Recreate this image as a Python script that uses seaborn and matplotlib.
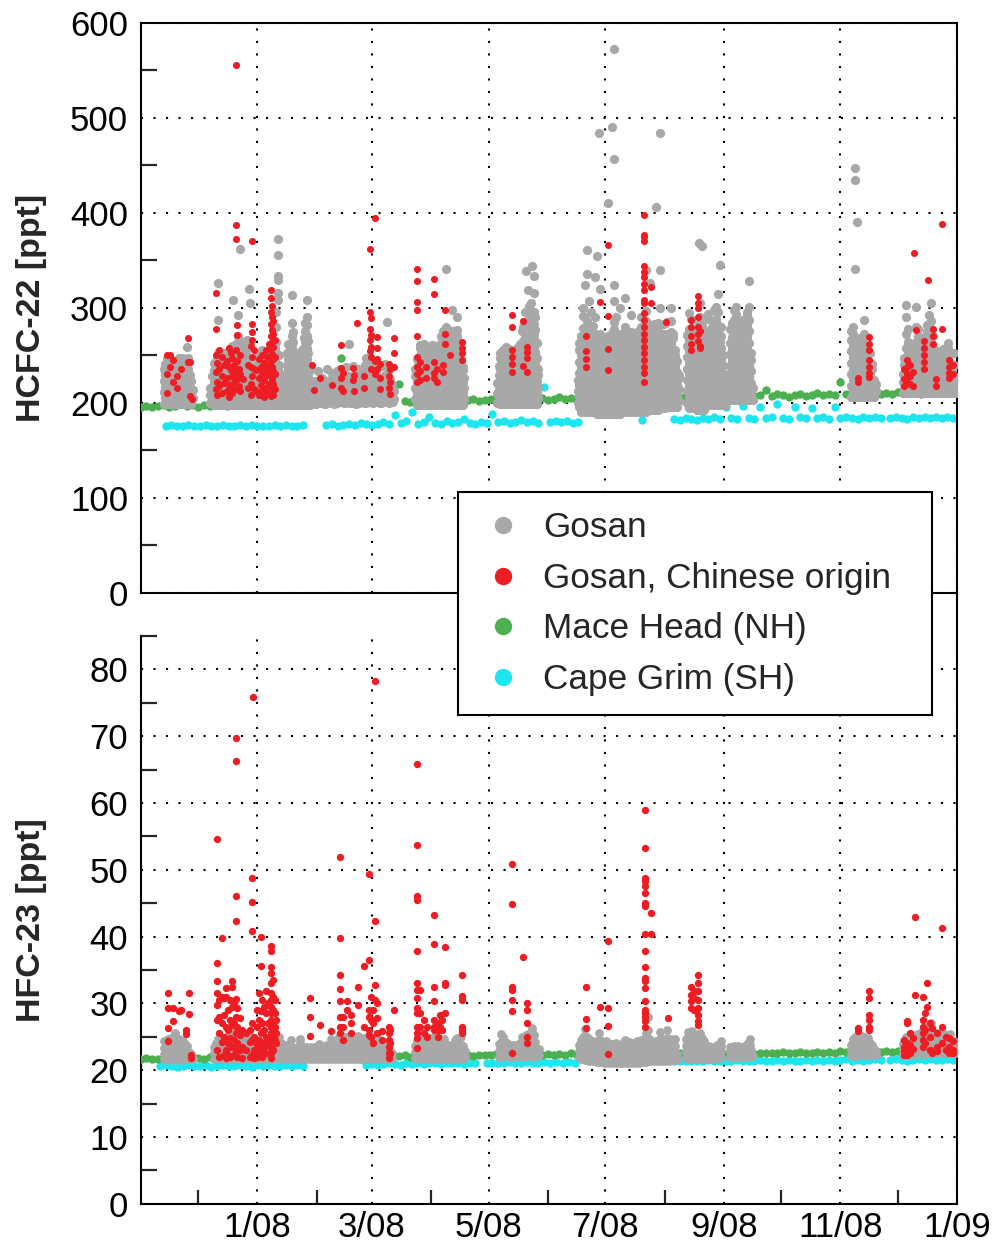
import numpy as np
import pandas as pd
import matplotlib
matplotlib.use("Agg")
import matplotlib.pyplot as plt
import matplotlib.dates as mdates
from matplotlib.lines import Line2D
from matplotlib.ticker import MultipleLocator, FixedLocator, FuncFormatter
import seaborn as sns

# ---------------------------------------------------------------------------
# Time axis: all sample times are given in days since 1 Nov 2007
# ---------------------------------------------------------------------------
START = pd.Timestamp("2007-11-01")
END = pd.Timestamp("2009-01-01")
BASE_STEP = 3  # days between plotted background-station samples

# ---------------------------------------------------------------------------
# HCFC-22 [ppt]
# Gosan: (day, [mixing ratios sampled around that day])
# ---------------------------------------------------------------------------
gosan_hcfc22 = [
    # Nov 2007
    (12.0, [199, 211, 223, 235]), (12.8, [205, 217, 229, 241]),
    (13.6, [199, 211, 223, 235, 247]), (14.4, [205, 217, 229, 241]),
    (15.2, [199, 211, 223, 235, 247]), (16.0, [205, 217, 229, 241]),
    (16.8, [199, 211, 223, 235]), (17.6, [205, 217, 229, 241]),
    (18.4, [199, 211, 223, 235]), (19.2, [205, 217, 229, 241]),
    (20.0, [199, 211, 223, 235, 247]), (20.8, [205, 217, 229, 241]),
    (21.6, [199, 211, 223, 235, 247]), (22.4, [205, 217, 229]),
    (23.2, [199, 211, 223, 235]), (24.0, [205, 217, 229, 241, 259]),
    (24.8, [199, 211, 223, 235, 247]), (25.6, [205, 217, 229]),
    (26.4, [199, 211, 223]), (27.2, [205, 213]),
    # Dec 2007
    (36.5, [200, 208, 216]), (37.3, [204, 216, 228]), (38.1, [198, 210, 222, 234, 242]),
    (38.9, [204, 216, 228, 240]), (39.7, [198, 210, 222, 234, 246]),
    (40.5, [204, 216, 228, 240, 252, 287, 326]), (41.3, [198, 210, 222, 234]),
    (42.1, [204, 216, 228, 240, 250]), (42.9, [198, 210, 222, 234]),
    (43.7, [204, 216, 228, 240, 252]), (44.5, [198, 210, 222, 234, 246]),
    (45.3, [204, 216, 228, 240]), (46.1, [198, 210, 222, 234, 246, 254]),
    (46.9, [204, 216, 228, 240, 250]), (47.7, [198, 210, 222, 234, 246, 260]),
    (48.5, [204, 216, 228, 240, 252, 308]), (49.3, [198, 210, 222, 234, 246, 256]),
    (50.1, [204, 216, 228, 240, 252, 262]),
    (50.9, [198, 210, 222, 234, 246, 258, 270, 292]),
    (51.7, [204, 216, 228, 240, 252, 264, 362]), (52.5, [198, 210, 222, 234, 246, 258]),
    (53.3, [204, 216, 228, 240, 252, 264]), (54.1, [198, 210, 222, 234, 246, 258]),
    (54.9, [204, 216, 228, 240, 252]), (55.7, [198, 210, 222, 234, 246, 258, 266]),
    (56.5, [204, 216, 228, 240, 320]), (57.3, [198, 210, 222, 234, 305]),
    (58.1, [204, 216, 228]), (58.9, [198, 210, 222]), (59.7, [204, 216, 228]),
    # Jan 2008
    (60.5, [198, 210, 222, 234, 246]), (61.3, [204, 216, 228, 240]),
    (62.1, [198, 210, 222, 234, 246, 252]), (62.9, [204, 216, 228]),
    (63.7, [198, 210, 222, 234, 246, 255]), (64.5, [204, 216, 228, 240]),
    (65.3, [198, 210, 222, 234, 246]), (66.1, [204, 216, 228, 240]),
    (66.9, [198, 210, 222, 234, 246, 256]), (67.7, [204, 216, 228]),
    (68.5, [198, 210, 222, 234]), (69.3, [204, 216, 228, 240]),
    (70.1, [198, 210, 222, 234, 246, 258]), (70.9, [204, 216, 228, 240, 252, 264, 280, 296]),
    (71.7, [198, 210, 222, 234, 308, 315, 329, 333, 355, 372]),
    (72.5, [204, 216, 228, 240, 250]), (73.3, [198, 210, 222]),
    (74.1, [200, 208, 216]), (74.9, [204, 212, 222]), (75.7, [198, 210, 222, 230]),
    (76.5, [204, 216, 228, 240, 252]), (77.3, [198, 210, 222, 234, 246, 262]),
    (78.1, [204, 216, 228, 240, 252, 258]),
    (78.9, [198, 210, 222, 234, 246, 258, 270, 284, 313]),
    (79.7, [204, 216, 228, 240, 252, 264, 274]), (80.5, [198, 210, 222, 234, 246, 251]),
    (81.3, [204, 216, 228, 240]), (82.1, [198, 210, 222, 231]),
    (82.9, [204, 216, 228, 240, 252]), (83.7, [198, 210, 222, 234]),
    (84.5, [204, 216, 228, 240, 252, 256]), (85.3, [198, 210, 222, 234, 246, 258, 268]),
    (86.1, [204, 216, 228, 240, 252, 264, 276, 284]),
    (86.9, [198, 210, 222, 234, 246, 258, 270, 282, 290, 308]),
    (87.7, [204, 216, 228, 240, 252, 265]), (88.5, [198, 210, 222, 234, 238]),
    (89.3, [204, 212, 216]),
    # Feb - mid Mar 2008
    (90.1, [200, 208, 218]), (91.0, [202, 211, 223]), (91.9, [199, 207, 215]),
    (92.8, [203, 212, 222, 233]), (93.7, [200, 209, 219]), (94.6, [204, 214, 226]),
    (95.5, [201, 210, 220]), (96.4, [199, 206, 214]), (97.3, [202, 211, 222, 235]),
    (98.2, [200, 208, 217]), (99.1, [203, 213, 224]), (100.0, [201, 209, 219, 231]),
    (100.9, [199, 207, 216]), (101.8, [202, 212, 223]), (102.7, [200, 210, 221, 233]),
    (103.6, [204, 214, 226]), (104.5, [201, 211, 222, 236]), (105.4, [203, 213, 225]),
    (106.3, [200, 209, 219]), (107.2, [202, 212, 224, 238]), (108.1, [201, 210, 221]),
    (109.0, [204, 215, 228, 262]), (109.9, [200, 209, 220]), (110.8, [203, 213, 225, 239]),
    (111.7, [201, 211, 223]), (112.6, [199, 208, 218]), (113.5, [202, 212, 224, 236]),
    (114.4, [200, 210, 221]), (115.3, [204, 214, 227]), (116.2, [201, 211, 222, 235]),
    (117.1, [203, 214, 226, 240]), (118.0, [200, 212, 225, 238, 247]),
    (118.9, [204, 216, 230, 244]), (119.8, [201, 213, 227, 241]), (120.7, [203, 215, 228]),
    (121.6, [200, 210, 221, 234]), (122.5, [202, 212, 224]), (123.4, [201, 211, 223, 236]),
    (124.3, [204, 215, 227]), (125.2, [200, 210, 222]), (126.1, [203, 213, 226, 239]),
    (127.0, [201, 212, 224]), (127.9, [204, 216, 229, 241]), (128.8, [202, 214, 228, 285]),
    (129.7, [200, 211, 223, 236]), (130.6, [203, 213, 225]), (131.5, [201, 210, 220]),
    (132.4, [204, 212]),
    # late Mar - Apr 2008
    (143.6, [204, 216, 228, 236]), (144.4, [198, 210, 222, 234, 246]),
    (145.2, [204, 216, 228, 240]), (146.0, [198, 210, 222, 234, 246, 258, 261]),
    (146.8, [204, 216, 228, 240, 252, 258]), (147.6, [198, 210, 222, 234, 246, 251]),
    (148.4, [204, 216, 228, 240, 252, 262]), (149.2, [198, 210, 222, 234, 246, 255]),
    (150.0, [204, 216, 228, 240, 248]), (150.8, [198, 210, 222, 234, 246, 250]),
    (151.6, [204, 216, 228, 240, 252, 259]), (152.4, [198, 210, 222, 234, 246, 258, 261]),
    (153.2, [204, 216, 228, 240, 244]), (154.0, [198, 210, 222, 234, 238]),
    (154.8, [204, 216, 228, 240, 252, 260]), (155.6, [198, 210, 222, 234, 246, 256]),
    (156.4, [204, 216, 228, 240, 252, 262]), (157.2, [198, 210, 222, 234, 246, 258, 270]),
    (158.0, [204, 216, 228, 240, 252, 264, 276]),
    (158.8, [198, 210, 222, 234, 246, 258, 270, 274]),
    (159.6, [204, 216, 228, 240, 252, 264, 276, 280, 341]),
    (160.4, [198, 210, 222, 234, 246, 258, 270, 275]),
    (161.2, [204, 216, 228, 240, 252, 264]), (162.0, [198, 210, 222, 234, 246, 258, 270]),
    (162.8, [204, 216, 228, 240, 252, 264, 276, 298]),
    (163.6, [198, 210, 222, 234, 246, 258, 270, 276]),
    (164.4, [204, 216, 228, 240, 252, 264, 267]),
    (165.2, [198, 210, 222, 234, 246, 258, 270, 277, 290]),
    (166.0, [204, 216, 228, 240, 252, 264]), (166.8, [198, 210, 222, 234, 246, 257]),
    (167.6, [204, 216, 228, 240, 245]), (168.4, [198, 210, 222, 234, 238]),
    (169.2, [204, 216, 226]),
    # May 2008
    (186.4, [200, 210, 221]), (187.2, [205, 217, 229, 239]),
    (188.0, [199, 211, 223, 235, 247, 252]), (188.8, [205, 217, 229, 241, 244]),
    (189.6, [199, 211, 223, 235, 247, 256]), (190.4, [205, 217, 229, 241, 248]),
    (191.2, [199, 211, 223, 235, 247, 259]), (192.0, [205, 217, 229, 241, 247]),
    (192.8, [199, 211, 223, 235, 247, 257]), (193.6, [205, 217, 229, 241, 246]),
    (194.4, [199, 211, 223, 235, 247, 254]), (195.2, [205, 217, 229, 241, 246]),
    (196.0, [199, 211, 223, 235, 241]), (196.8, [205, 217, 229, 241, 253, 258]),
    (197.6, [199, 211, 223, 235, 239]), (198.4, [205, 217, 229, 241, 253, 262]),
    (199.2, [199, 211, 223, 235, 247, 259, 275]),
    (200.0, [205, 217, 229, 241, 253, 265, 280]),
    (200.8, [199, 211, 223, 235, 247, 259, 271, 283, 296]),
    (201.6, [205, 217, 229, 241, 253, 265, 277, 285, 339]),
    (202.4, [199, 211, 223, 235, 247, 259, 271, 283, 298, 319]),
    (203.2, [205, 217, 229, 241, 253, 265, 277, 289, 302]),
    (204.0, [199, 211, 223, 235, 247, 259, 271, 283, 295, 305]),
    (204.8, [205, 217, 229, 241, 253, 265, 277, 289, 344]),
    (205.6, [199, 211, 223, 235, 247, 259, 271, 283, 295, 315, 333]),
    (206.4, [205, 217, 229, 241, 253, 265, 277, 290]),
    (207.2, [199, 211, 223, 235, 247, 263]), (208.0, [205, 217, 229, 236]),
    # mid Jun - Jul 2008
    (228.5, [200, 212, 224]), (229.5, [195, 207, 219, 231, 243, 255, 263]),
    (230.5, [190, 202, 214, 226, 238, 250, 262, 270]),
    (231.5, [195, 207, 219, 231, 243, 255, 267, 279, 291, 300]),
    (232.5, [190, 202, 214, 226, 238, 250, 262, 274, 290, 324]),
    (233.5, [195, 207, 219, 231, 243, 255, 267, 279, 286, 336, 361]),
    (234.5, [190, 202, 214, 226, 238, 250, 262, 270, 307]),
    (235.5, [195, 207, 219, 231, 243, 255, 267, 279, 296]),
    (236.5, [190, 202, 214, 226, 238, 250, 262, 274, 281]),
    (237.5, [195, 207, 219, 231, 243, 255, 267, 290, 332]),
    (238.5, [188, 200, 212, 224, 236, 248, 260, 263, 354]),
    (239.5, [194, 206, 218, 230, 242, 254, 266, 270, 484]),
    (240.5, [188, 200, 212, 224, 236, 248, 260, 272, 320]),
    (241.5, [194, 206, 218, 230, 242, 254, 266]),
    (242.5, [188, 200, 212, 224, 236, 248, 256]),
    (243.5, [194, 206, 218, 230, 242, 254, 265]),
    (244.5, [188, 200, 212, 224, 236, 248, 260, 270, 410]),
    (245.5, [194, 206, 218, 230, 242, 254, 266]),
    (246.5, [188, 200, 212, 224, 236, 248, 260, 273, 490]),
    (247.5, [194, 206, 218, 230, 242, 254, 266, 278, 285, 307, 324, 457, 572]),
    (248.5, [188, 200, 212, 224, 236, 248, 260, 272, 290]),
    (249.5, [194, 206, 218, 230, 242, 254, 266, 269]),
    (250.5, [188, 200, 212, 224, 236, 248, 260, 272, 300]),
    (251.5, [194, 206, 218, 230, 242, 254, 266, 270]),
    (252.5, [190, 202, 214, 226, 238, 250, 259]),
    (253.5, [196, 208, 220, 232, 244, 256, 268, 280, 310]),
    (254.5, [190, 202, 214, 226, 238, 250, 262, 276]),
    (255.5, [196, 208, 220, 232, 244, 256]),
    (256.5, [190, 202, 214, 226, 238, 250, 262, 274, 292]),
    (257.5, [196, 208, 220, 232, 244, 256, 268, 270]),
    (258.5, [190, 202, 214, 226, 238, 250, 262]),
    (259.5, [196, 208, 220, 232, 244, 256, 268, 274]),
    (260.5, [190, 202, 214, 226, 238, 250, 262]),
    (261.5, [196, 208, 220, 232, 244, 256, 268, 280, 290]),
    (262.5, [190, 202, 214, 226, 238, 250, 262, 264]),
    (263.5, [196, 208, 220, 232, 244, 256, 268, 277]),
    (264.5, [190, 202, 214, 226, 238, 250, 262, 274, 286, 297, 340]),
    (265.5, [196, 208, 220, 232, 244, 256, 268, 279]),
    (266.5, [192, 204, 216, 228, 240, 252, 264, 276, 282, 326]),
    (267.5, [198, 210, 222, 234, 246, 258, 270, 278]),
    (268.5, [192, 204, 216, 228, 240, 252, 264, 276, 283]),
    (269.5, [198, 210, 222, 234, 246, 258, 270, 281, 406]),
    (270.5, [192, 204, 216, 228, 240, 252, 264, 276, 284]),
    (271.5, [198, 210, 222, 234, 246, 258, 270, 282, 300, 340, 484]),
    (272.5, [194, 206, 218, 230, 242, 254, 266, 269]),
    (273.5, [200, 212, 224, 236, 248, 260, 272, 283]),
    (274.5, [194, 206, 218, 230, 242, 254, 266, 270]),
    (275.5, [200, 212, 224, 236, 248, 260, 272, 285]),
    (276.5, [196, 208, 220, 232, 244, 256, 268, 271]),
    (277.5, [202, 214, 226, 238, 250, 262, 274, 286, 300]),
    (278.5, [196, 208, 220, 232, 244, 256, 268, 272]),
    (279.5, [202, 214, 226, 238, 250, 255]), (280.5, [196, 208, 220, 232, 244]),
    (281.5, [202, 214, 226, 229]),
    # Aug 2008
    (285.8, [200, 212, 224, 236, 248, 260, 271]),
    (286.8, [194, 206, 218, 230, 242, 254, 266, 278, 294]),
    (287.8, [200, 212, 224, 236, 248, 260, 272, 288]),
    (288.8, [194, 206, 218, 230, 242, 254, 262]),
    (289.8, [198, 210, 222, 234, 246, 258, 268]),
    (290.8, [192, 204, 216, 228, 240, 252, 264, 275]),
    (291.8, [198, 210, 222, 234, 246, 258, 270, 283, 368]),
    (292.8, [192, 204, 216, 228, 240, 252, 264, 276, 290, 305]),
    (293.8, [198, 210, 222, 234, 246, 258, 270, 281, 365]),
    (294.8, [192, 204, 216, 228, 240, 252, 264, 276, 288]),
    (295.8, [198, 210, 222, 234, 246, 258, 270, 275]),
    (296.8, [204, 216, 228, 240, 252, 264, 276, 288, 293]),
    (297.8, [198, 210, 222, 234, 246, 258, 270, 276]),
    (298.8, [204, 216, 228, 240, 252, 264, 276, 280]),
    (299.8, [198, 210, 222, 234, 246, 258, 270, 282, 298]),
    (300.8, [204, 216, 228, 240, 252, 264, 276, 288, 301]),
    (301.8, [198, 210, 222, 234, 246, 258, 270, 282, 296, 314]),
    (302.8, [204, 216, 228, 240, 252, 264, 345]),
    (303.8, [198, 210, 222, 234, 246, 258, 270, 280]),
    (304.8, [204, 216, 228, 240, 250]), (305.8, [198, 210, 222, 230]),
    # Sep 2008
    (308.3, [203, 215, 227, 239, 251, 263, 278]),
    (309.3, [209, 221, 233, 245, 257, 269, 281, 284]),
    (310.3, [203, 215, 227, 239, 251, 263, 275, 287, 298]),
    (311.3, [209, 221, 233, 245, 257, 269, 281, 293, 301]),
    (312.3, [203, 215, 227, 239, 251, 263, 275, 283]),
    (313.3, [209, 221, 233, 245, 257, 269, 281, 286]),
    (314.3, [203, 215, 227, 239, 251, 263, 268]),
    (315.3, [209, 221, 233, 245, 257, 269, 281, 287]),
    (316.3, [203, 215, 227, 239, 251, 263, 275, 280]),
    (317.3, [209, 221, 233, 245, 257, 269, 281, 293, 296]),
    (318.3, [203, 215, 227, 239, 251, 263, 275, 287, 301, 328]),
    (319.3, [209, 221, 233, 245, 252]), (320.3, [203, 215]),
    # Nov 2008
    (371.5, [206, 218, 230, 242, 254, 266, 276]),
    (372.5, [212, 224, 236, 248, 260, 272, 280]),
    (373.5, [206, 218, 230, 242, 254, 266, 341, 434, 447]),
    (374.5, [212, 224, 236, 248, 260, 268, 390]), (375.5, [206, 218, 230, 242, 254, 265]),
    (376.5, [212, 224, 236, 248, 254]), (377.5, [206, 218, 230, 242, 254, 266]),
    (378.5, [212, 224, 236, 248, 260, 272, 287]), (379.5, [206, 218, 230, 242, 253]),
    (380.5, [212, 224, 236, 240]), (381.5, [206, 218, 230, 242, 252]),
    (382.5, [212, 224, 236, 241]), (383.5, [206, 218, 224]), (384.5, [212, 220]),
    # Dec 2008
    (398.5, [210, 222, 230]), (399.5, [216, 228, 240, 247]),
    (400.5, [210, 222, 234, 246, 258, 272, 290, 303]),
    (401.5, [216, 228, 240, 252, 264, 278]), (402.5, [210, 222, 234, 246, 258, 262]),
    (403.5, [216, 228, 240, 253]), (404.5, [210, 222, 234, 246, 258, 260]),
    (405.5, [216, 228, 240, 252, 264, 280, 301]),
    (406.5, [210, 222, 234, 246, 258, 270, 278]), (407.5, [216, 228, 240, 252, 264, 268]),
    (408.5, [210, 222, 234, 246, 251]), (409.5, [216, 228, 240, 252, 264, 269]),
    (410.5, [210, 222, 234, 246, 250]), (411.5, [216, 228, 240, 252, 264, 276, 282]),
    (412.5, [210, 222, 234, 246, 258, 270, 280, 292]),
    (413.5, [216, 228, 240, 252, 264, 276, 286, 305]),
    (414.5, [210, 222, 234, 246, 258, 270]), (415.5, [216, 228, 240, 252, 255]),
    (416.5, [210, 222, 234, 246, 250]), (417.5, [216, 228, 240]),
    (418.5, [210, 222, 234, 246, 252]), (419.5, [216, 228, 240, 252, 257]),
    (420.5, [210, 222, 234, 239]), (421.5, [216, 228, 240, 250]),
    (422.5, [210, 222, 234, 246, 258, 263]), (423.5, [216, 228, 240, 251]),
    (424.5, [210, 222, 234, 241]), (425.5, [216, 228, 240, 252]), (426.5, [210, 222]),
]

# Gosan samples attributed to air masses of Chinese origin
china_hcfc22 = [
    (14.0, [250, 230, 210]), (15.5, [250, 238]), (17.0, [245, 222]), (19.0, [228, 215]),
    (21.0, [236]), (25.0, [243, 268]), (26.0, [243, 207]), (27.0, [204]),
    (39.3, [315, 278, 250, 232, 214]), (40.0, [242, 222, 208]), (41.2, [255, 236, 218]),
    (42.6, [248, 228, 210]), (43.8, [240, 221]), (45.3, [244, 226, 212]),
    (46.2, [258, 238, 219, 206]), (47.0, [252, 234, 216]), (47.8, [247, 228, 210]),
    (48.7, [240, 222]), (49.6, [555, 387, 372, 256, 232, 214]), (50.5, [282, 271, 244, 225]),
    (51.4, [236, 218]), (52.2, [250, 230, 212]), (53.5, [225]), (56.0, [240, 216]),
    (57.5, [260, 238, 220, 208]), (58.3, [370, 283, 274, 266, 248, 228]),
    (59.5, [255, 235, 214]), (60.3, [234, 212]),
    (61.8, [246, 226, 208]), (62.7, [238, 219]), (63.6, [250, 231, 212]),
    (64.5, [242, 224, 206]), (65.4, [256, 236, 216]), (66.3, [248, 229, 210]),
    (67.2, [262, 240, 220]), (67.9, [319, 310, 296, 283, 270, 257, 244, 231, 218, 207]),
    (68.6, [302, 290, 277, 264, 251, 238, 225, 212]),
    (69.4, [286, 272, 259, 246, 233, 220, 208]), (70.3, [266, 248, 230, 214]),
    (89.6, [240]), (90.5, [213]), (94.0, [226]), (100.0, [219]),
    (105.0, [261, 237, 226, 216]), (105.8, [231, 212]), (110.8, [237, 224]),
    (111.6, [229, 212]), (113.0, [284]), (116.6, [228, 216]),
    (119.8, [362, 296, 278, 266, 254]), (120.6, [289, 271, 259, 248, 236]),
    (122.7, [394, 244, 230]), (123.6, [269, 258, 246, 235]), (125.3, [241, 226, 214]),
    (129.7, [241, 228, 215]), (130.6, [236, 222, 209]), (132.3, [268, 252, 238]),
    (144.5, [341, 328, 306, 298, 270, 248, 238, 230, 222]), (146.0, [243, 233, 224]),
    (149.0, [238, 226]), (153.2, [330, 314, 243, 231, 226]), (155.0, [236, 222]),
    (158.0, [240, 232]), (159.4, [298, 272, 262]), (162.0, [250]),
    (168.0, [264, 258, 252, 245]),
    (194.0, [292, 280, 255, 248, 241, 232]), (200.0, [286, 239]),
    (202.3, [259, 253, 247, 232]),
    (233.0, [270, 254, 246, 238]), (240.0, [306]), (244.5, [366, 291, 257, 234]),
    (263.5, [398, 377, 374, 370, 344, 338, 332, 325, 319, 308, 305, 294, 287, 280, 272,
             266, 259, 252, 245, 238, 231, 222]),
    (267.0, [322, 305]), (275.0, [285]),
    (288.0, [287, 280, 270, 262, 255]), (291.6, [312, 305, 300, 290, 280, 272, 265]),
    (292.4, [275, 260, 258]),
    (375.0, [226, 222]), (380.9, [269, 262, 255, 245, 238, 231, 227]),
    (399.5, [235, 225, 218]), (400.8, [245, 238, 230, 222]), (402.5, [240, 228, 220]),
    (403.8, [232, 218]), (404.7, [358]), (405.6, [277]),
    (409.8, [265, 258, 250, 243, 236]), (411.9, [329]), (414.3, [278, 270, 262]),
    (416.0, [225, 218]), (419.2, [388, 278]), (423.0, [245, 238, 231, 226]),
    (425.0, [240, 230]),
]

# Background stations: (first day, [values every BASE_STEP days])
macehead_hcfc22 = [
    (0, [196, 197, 195, 197, 198, 196, 197, 199, 197, 198,
         196, 198, 197, 199, 198, 197, 199, 198, 200, 198,
         199, 200, 198, 200, 201, 199, 200, 198, 201, 200,
         200, 201, 199, 201, 200, 247, 200, 201, 202, 200,
         201, 202, 200, 202, 201, 220, 202, 201, 203, 202,
         201, 203, 202, 204, 202, 203, 201, 203, 204, 202,
         203, 204, 202, 215, 204, 203, 218, 205, 203, 204,
         205, 203, 204, 206, 204, 205, 203, 205, 206, 204,
         205, 206, 204, 206, 205, 207, 205, 206, 204, 206,
         205, 207, 206, 204, 206, 207, 205, 206, 208, 206,
         207, 205, 207, 206, 208, 206, 213, 207, 208, 213,
         207, 209, 208, 206, 208, 209, 207, 208, 210, 208,
         209, 208, 222, 209, 210, 208, 210, 209, 211, 209,
         210, 209, 211, 210, 212, 210, 209, 211, 210, 212,
         211, 210, 212]),
]

capegrim_hcfc22 = [
    (13, [176, 177, 176, 175, 177, 176, 176, 177, 175, 176, 177, 176, 175,
          177, 176, 177, 176, 175, 176, 177, 176, 177, 175, 176, 177]),
    (97, [177, 178, 176, 177, 178, 177, 179, 178, 177, 178, 180, 178, 187, 179,
          181, 190, 178, 180, 185, 179, 178, 181, 179, 180, 183, 179, 178, 180,
          179, 188, 180, 181, 179, 180, 182, 180, 181, 179, 217, 180, 181]),
    (220, [180, 181, 179, 180]),
    (262, [182]),
    (279, [183, 182, 184, 183, 182, 184, 183, 185, 183, 196, 184, 183, 197, 184,
           183, 195, 184, 185, 199, 184, 183, 196, 185, 184, 194, 184, 185, 183,
           195, 184, 185, 184, 183, 185, 184, 185, 184]),
    (392, [184, 185, 184, 183, 185, 184, 185, 184, 185, 184, 185, 184]),
]

# ---------------------------------------------------------------------------
# HFC-23 [ppt]
# ---------------------------------------------------------------------------
gosan_hfc23 = [
    (12.2, [21.6, 22.4, 23.3, 24.4]), (13.2, [21.8, 22.7, 23.8]), (14.2, [21.5, 22.3, 23.2, 24.6]),
    (15.2, [21.9, 22.8, 23.9]), (16.2, [21.6, 22.5, 23.5, 24.8]), (17.2, [21.8, 22.8, 24.0, 25.3]),
    (18.2, [21.5, 22.4, 23.4, 24.5, 25.5]), (19.2, [21.9, 22.9, 24.1]),
    (20.2, [21.6, 22.5, 23.6, 24.7]), (21.2, [21.8, 22.7, 23.7]), (22.2, [21.5, 22.4, 23.3, 24.3]),
    (23.2, [21.9, 22.8, 23.9]), (24.2, [21.6, 22.6, 23.6]), (25.2, [21.8, 22.7]),
    (26.2, [21.6, 22.4]), (27.2, [21.7]),
    (38.5, [21.7, 22.6, 23.5]), (39.5, [21.9, 22.9, 24.0]), (40.5, [21.6, 22.5, 23.6, 24.6]),
    (41.5, [21.8, 22.8, 23.9]), (42.5, [21.6, 22.6, 23.7, 24.8]), (43.5, [21.9, 22.9, 24.0]),
    (44.5, [21.7, 22.7, 23.8, 24.9]), (45.5, [21.9, 22.9, 24.1]), (46.5, [21.6, 22.6, 23.7, 24.7]),
    (47.5, [21.8, 22.8, 23.9, 25.0]), (48.5, [21.7, 22.7, 23.8, 25.2, 26.2]),
    (49.5, [21.9, 22.9, 24.1, 25.4]), (50.5, [21.6, 22.6, 23.7, 24.9, 25.9]),
    (51.5, [21.8, 22.8, 24.0, 25.2]), (52.5, [21.7, 22.7, 23.8, 24.8]), (53.5, [21.9, 22.9, 24.0]),
    (54.5, [21.6, 22.6, 23.6, 24.7]), (55.5, [21.8, 22.8, 23.9, 25.0]),
    (56.5, [21.7, 22.7, 23.8, 25.1]), (57.5, [21.9, 22.9, 24.0]), (58.5, [21.7, 22.6, 23.6]),
    (59.5, [21.8, 22.8]),
    (60.5, [21.7, 22.6, 23.6]), (61.5, [21.9, 22.9, 24.0]), (62.5, [21.6, 22.5, 23.5]),
    (63.5, [21.8, 22.8, 23.9]), (64.5, [21.7, 22.7, 23.7]), (65.5, [21.9, 22.9, 24.1]),
    (66.5, [21.6, 22.6, 23.6]), (67.5, [21.8, 22.7]), (68.5, [21.7, 22.6]), (69.5, [21.9, 22.8]),
    (70.5, [21.6, 22.5, 23.5, 24.6]), (71.5, [21.8, 22.8, 23.9, 25.0]),
    (72.5, [21.7, 22.7, 23.8, 24.9]), (73.5, [21.9, 22.9, 24.0]), (74.5, [21.7, 22.6, 23.5]),
    (75.5, [21.8, 22.7, 23.7]), (76.5, [21.6, 22.5, 23.4]), (77.5, [21.9, 22.8, 23.8]),
    (78.5, [21.7, 22.6, 23.5, 24.5]), (79.5, [21.8, 22.7]), (80.5, [21.6, 22.5, 23.3]),
    (81.5, [21.9, 22.7]), (82.5, [21.7, 22.6, 23.4]), (83.5, [21.8, 22.8, 24.0, 24.6]),
    (84.5, [21.6, 22.5, 23.4]), (85.5, [21.9, 22.8]), (86.5, [21.7, 22.6, 23.5]),
    (87.5, [21.8, 22.7]), (88.5, [21.6, 22.5, 23.4]), (89.5, [21.9, 22.8]),
    (90.5, [21.7, 22.6, 23.5]), (91.5, [21.8, 22.7]), (92.5, [21.6, 22.5, 23.4]),
    (93.5, [21.9, 22.8, 23.9]), (94.5, [21.7, 22.6]), (95.5, [21.8, 22.7, 23.6]),
    (96.5, [21.6, 22.5]), (97.5, [21.9, 22.8, 23.8]), (98.5, [21.7, 22.6, 23.5]),
    (99.5, [21.8, 22.7, 23.7, 24.7]), (100.5, [21.6, 22.5, 23.5]), (101.5, [21.9, 22.8, 23.8]),
    (102.5, [21.7, 22.6, 23.6]), (103.5, [21.8, 22.8, 23.9, 24.9]), (104.5, [21.6, 22.6, 23.7]),
    (105.5, [21.9, 22.9, 24.0, 25.1]), (106.5, [21.7, 22.7, 23.8]),
    (107.5, [21.8, 22.8, 23.9, 24.9]), (108.5, [21.6, 22.6, 23.7]), (109.5, [21.9, 22.9, 24.0]),
    (110.5, [21.7, 22.7, 23.8, 24.8]), (111.5, [21.8, 22.8, 23.9]), (112.5, [21.6, 22.6, 23.6]),
    (113.5, [21.9, 22.9, 24.0, 25.1]), (114.5, [21.7, 22.7, 23.7]), (115.5, [21.8, 22.8, 23.9]),
    (116.5, [21.6, 22.6, 23.7, 24.8]), (117.5, [21.9, 22.9, 24.0]),
    (118.5, [21.7, 22.7, 23.8, 25.0]), (119.5, [21.8, 22.8, 23.9]),
    (120.5, [21.6, 22.6, 23.7, 24.7]), (121.5, [21.9, 22.9, 24.0]), (122.5, [21.7, 22.7, 23.8]),
    (123.5, [21.8, 22.8, 23.9, 24.9]), (124.5, [21.6, 22.6, 23.7]), (125.5, [21.9, 22.9, 24.0]),
    (126.5, [21.7, 22.7, 23.7]), (127.5, [21.8, 22.8]), (128.5, [21.6, 22.6, 23.6]),
    (129.5, [21.9, 22.9]), (130.5, [21.7, 22.7]), (131.5, [21.8, 22.6]),
    (143.5, [21.8, 22.7, 23.6]), (144.5, [21.6, 22.5, 23.4, 24.4]), (145.5, [21.9, 22.8, 23.8]),
    (146.5, [21.7, 22.6, 23.5, 24.5]), (147.5, [21.8, 22.7, 23.7]),
    (148.5, [21.6, 22.6, 23.6, 24.7]), (149.5, [21.9, 22.9, 23.9, 24.9]),
    (150.5, [21.7, 22.7, 23.7]), (151.5, [21.8, 22.8, 23.9, 24.8]), (152.5, [21.6, 22.6, 23.6]),
    (153.5, [21.9, 22.9, 24.0, 25.0]), (154.5, [21.7, 22.7, 23.8]),
    (155.5, [21.8, 22.8, 23.9, 24.9]), (156.5, [21.6, 22.6, 23.7]), (157.5, [21.9, 22.9, 24.0]),
    (158.5, [21.7, 22.7, 23.7, 24.6]), (159.5, [21.8, 22.8, 23.8]), (160.5, [21.6, 22.6, 23.6]),
    (161.5, [21.9, 22.8, 23.7]), (162.5, [21.7, 22.6, 23.5]), (163.5, [21.8, 22.7, 23.6]),
    (164.5, [21.6, 22.5, 23.5, 24.5]), (165.5, [21.9, 22.8, 23.8, 24.8]),
    (166.5, [21.7, 22.7, 23.7]), (167.5, [21.8, 22.8, 23.8, 24.9]), (168.5, [21.6, 22.6, 23.6]),
    (169.5, [21.9, 22.8]),
    (187.5, [22.0, 22.9, 23.9]), (188.5, [22.2, 23.1, 24.2, 25.4]),
    (189.5, [22.0, 22.9, 23.9, 24.9]), (190.5, [22.3, 23.2, 24.2]), (191.5, [22.1, 23.0, 24.0]),
    (192.5, [22.0, 22.8, 23.7]), (193.5, [22.2, 23.1]), (194.5, [22.0, 22.9, 23.8]),
    (195.5, [22.3, 23.2]), (196.5, [22.1, 22.9, 23.8]), (197.5, [22.0, 22.8]),
    (198.5, [22.2, 23.1, 24.0]), (199.5, [22.1, 23.0, 24.0, 25.0]), (200.5, [22.3, 23.3, 24.4]),
    (201.5, [22.0, 23.0, 24.1, 25.2]), (202.5, [22.2, 23.2, 24.3, 25.4]),
    (203.5, [22.1, 23.1, 24.2, 25.3]), (204.5, [22.3, 23.3, 24.5, 25.7, 26.3]),
    (205.5, [22.0, 23.0, 24.1, 25.2]), (206.5, [22.2, 23.2, 24.2]), (207.5, [22.1, 23.0]),
    (208.5, [22.3, 23.1]),
    (229.5, [21.9, 22.8, 23.7]), (230.5, [21.6, 22.5, 23.5, 24.5]),
    (231.5, [21.8, 22.8, 23.9, 25.0]), (232.5, [21.5, 22.5, 23.6, 24.8, 26.2]),
    (233.5, [21.7, 22.7, 23.8, 25.0]), (234.5, [21.4, 22.4, 23.5, 24.6]),
    (235.5, [21.6, 22.6, 23.6]), (236.5, [21.3, 22.2, 23.2, 24.3]), (237.5, [21.5, 22.5, 23.5]),
    (238.5, [21.2, 22.1, 23.1, 24.2]), (239.5, [21.4, 22.4, 23.4, 24.5, 25.6]),
    (240.5, [21.2, 22.1, 23.0]), (241.5, [21.4, 22.3, 23.3, 24.4]), (242.5, [21.1, 22.0, 22.9]),
    (243.5, [21.3, 22.3, 23.3, 24.3]), (244.5, [21.1, 22.0, 23.0, 24.0]),
    (245.5, [21.3, 22.2, 23.2]), (246.5, [21.0, 21.9, 22.9, 23.9]), (247.5, [21.2, 22.2, 23.2]),
    (248.5, [21.1, 22.0, 23.0, 24.0]), (249.5, [21.3, 22.2, 23.1]),
    (250.5, [21.0, 21.9, 22.8, 23.8]), (251.5, [21.2, 22.1, 23.1]),
    (252.5, [21.1, 22.0, 23.0, 24.1]), (253.5, [21.3, 22.3, 23.4, 24.5]),
    (254.5, [21.1, 22.1, 23.1]), (255.5, [21.2, 22.2, 23.2, 24.2]), (256.5, [21.0, 22.0, 23.0]),
    (257.5, [21.2, 22.1, 23.1, 24.0]), (258.5, [21.1, 22.0, 22.9]),
    (259.5, [21.3, 22.3, 23.3, 24.3]), (260.5, [21.1, 22.0, 23.0]),
    (261.5, [21.3, 22.3, 23.4, 24.5]), (262.5, [21.2, 22.2, 23.2, 24.4]),
    (263.5, [21.4, 22.4, 23.5, 24.6]), (264.5, [21.2, 22.2, 23.3, 24.5, 25.6]),
    (265.5, [21.4, 22.5, 23.6, 24.8, 26.0, 28.0]), (266.5, [21.3, 22.3, 23.4, 24.5]),
    (267.5, [21.5, 22.5, 23.6]), (268.5, [21.3, 22.3, 23.3]), (269.5, [21.5, 22.4, 23.4, 24.4]),
    (270.5, [21.3, 22.3, 23.3]), (271.5, [21.5, 22.5, 23.6, 24.7, 25.7]),
    (272.5, [21.4, 22.4, 23.5, 24.6]), (273.5, [21.6, 22.6, 23.6]),
    (274.5, [21.4, 22.4, 23.4, 24.5]), (275.5, [21.6, 22.6, 23.7, 24.8, 26.0]),
    (276.5, [21.4, 22.4, 23.4]), (277.5, [21.6, 22.5, 23.5, 24.6]), (278.5, [21.5, 22.4, 23.3]),
    (279.5, [21.7, 22.6, 23.6, 24.7]), (280.5, [21.5, 22.4]),
    (285.5, [21.8, 22.7, 23.6, 24.6]), (286.5, [21.6, 22.6, 23.6, 24.7, 25.7]),
    (287.5, [21.9, 22.9, 24.0, 25.1]), (288.5, [21.7, 22.7, 23.8, 24.9, 25.9]),
    (289.5, [21.9, 22.9, 24.0, 25.0]), (290.5, [21.6, 22.6, 23.7, 24.8]),
    (291.5, [21.8, 22.8, 23.9, 25.0]), (292.5, [21.6, 22.6, 23.6, 24.6, 25.6]),
    (293.5, [21.8, 22.8, 23.8, 24.8]), (294.5, [21.6, 22.5, 23.5, 24.4]),
    (295.5, [21.8, 22.7, 23.6]), (296.5, [21.6, 22.5, 23.4]), (297.5, [21.8, 22.7, 23.6]),
    (298.5, [21.7, 22.6, 23.4]), (299.5, [21.9, 22.8]), (300.5, [21.7, 22.6, 23.5]),
    (301.5, [21.9, 22.8, 23.7]), (302.5, [21.8, 22.6]), (303.5, [21.9, 22.8, 23.6, 24.4]),
    (308.5, [22.0, 22.8, 23.5]), (309.5, [22.2, 23.0]), (310.5, [22.0, 22.8, 23.6]),
    (311.5, [22.2, 23.0]), (312.5, [22.0, 22.9, 23.6]), (313.5, [22.2, 23.0]),
    (314.5, [22.0, 22.8, 23.5]), (315.5, [22.2, 23.0]), (316.5, [22.0, 22.9, 23.7]),
    (317.5, [22.2, 23.1, 24.0]), (318.5, [22.0, 22.9, 23.8, 24.6]), (319.5, [22.2, 23.0]),
    (320.5, [22.1]),
    (371.5, [22.3, 23.0, 23.8]), (372.5, [22.1, 22.9, 23.8, 24.6]),
    (373.5, [22.3, 23.1, 24.0, 24.9]), (374.5, [22.1, 23.0, 23.9, 24.8]),
    (375.5, [22.3, 23.2, 24.1, 25.0]), (376.5, [22.2, 23.1, 24.0]),
    (377.5, [22.4, 23.3, 24.2, 25.1]), (378.5, [22.2, 23.1, 24.0, 24.9]),
    (379.5, [22.4, 23.3, 24.2]), (380.5, [22.2, 23.1, 24.0, 24.8]), (381.5, [22.4, 23.2, 24.0]),
    (382.5, [22.2, 23.0, 23.8]), (383.5, [22.4, 23.1]), (384.5, [22.2, 22.9]),
    (398.5, [22.3, 23.1, 23.9]), (399.5, [22.5, 23.4, 24.3]), (400.5, [22.3, 23.2, 24.1, 25.0]),
    (401.5, [22.5, 23.4, 24.4]), (402.5, [22.3, 23.2, 24.2, 25.1]), (403.5, [22.5, 23.5, 24.5]),
    (404.5, [22.4, 23.3, 24.3, 25.3]), (405.5, [22.6, 23.6, 24.6]),
    (406.5, [22.4, 23.4, 24.4, 25.4]), (407.5, [22.6, 23.6, 24.6, 25.6]),
    (408.5, [22.4, 23.4, 24.4]), (409.5, [22.6, 23.6, 24.7, 25.8]),
    (410.5, [22.4, 23.4, 24.5, 25.6]), (411.5, [22.6, 23.6, 24.7, 25.9]),
    (412.5, [22.5, 23.5, 24.6, 25.8, 26.6]), (413.5, [22.7, 23.7, 24.8, 26.0, 27.0]),
    (414.5, [22.5, 23.5, 24.6, 25.7]), (415.5, [22.7, 23.7, 24.8]),
    (416.5, [22.5, 23.5, 24.5, 25.5]), (417.5, [22.7, 23.6, 24.6]), (418.5, [22.5, 23.5, 24.5]),
    (419.5, [22.7, 23.6, 24.6, 25.5]), (420.5, [22.5, 23.4, 24.3]), (421.5, [22.7, 23.6, 24.5]),
    (422.5, [22.5, 23.4, 24.3]), (423.5, [22.7, 23.6, 24.5, 25.4]), (424.5, [22.5, 23.4]),
    (425.5, [22.7, 23.6, 24.4]), (426.5, [22.6, 23.3]),
]

china_hfc23 = [
    (14.4, [31.5, 29.3, 26.3, 24.3]), (16.8, [29.3, 27.3]), (20.0, [28.8]), (20.9, [29.0]),
    (23.5, [26.0, 25.4]), (25.2, [31.5, 28.4]), (26.1, [22.3, 21.8]),
    (39.7, [54.6, 36.0, 33.3, 31.5, 29.8, 27.5, 23.0]), (40.9, [30.5, 28.0, 25.5, 22.0]),
    (42.3, [39.8, 31.0, 27.0, 24.2]), (43.5, [30.8, 28.2, 25.0, 22.3]),
    (44.4, [32.3, 31.0, 26.5, 23.0, 21.8]), (45.6, [29.0, 26.0, 24.0, 22.2]),
    (46.5, [30.5, 27.5, 24.8, 22.0]), (47.9, [33.3, 32.5, 29.5, 26.8, 23.5]),
    (48.8, [30.0, 27.0, 24.5, 22.3]), (49.6, [69.7, 66.3, 46.1, 42.4, 30.7, 28.0, 25.5, 23.0]),
    (50.6, [29.3, 26.5, 24.0, 22.0]), (51.8, [27.8, 25.2, 23.0]), (53.0, [26.0, 23.5, 21.8]),
    (55.2, [25.5, 23.0]), (57.0, [26.0, 24.2, 22.0]),
    (58.0, [48.7, 45.1, 40.9, 27.0, 24.5, 22.3]), (58.6, [75.9]), (59.5, [25.0, 23.0, 21.8]),
    (60.8, [29.0, 26.5, 23.8, 21.9]), (61.8, [31.5, 27.5, 24.5, 22.5]),
    (62.7, [40.0, 35.6, 28.8, 25.5, 23.0]), (63.7, [30.5, 27.0, 24.0, 22.0]),
    (64.7, [29.5, 26.0, 23.5]), (65.7, [31.8, 28.5, 25.0, 22.5]), (66.7, [30.0, 27.0, 24.2]),
    (67.9, [38.6, 37.8, 35.5, 34.5, 33.0, 31.5, 30.5, 29.5, 28.5, 27.5, 26.5, 25.5, 24.5,
            23.5, 22.5, 21.8]),
    (69.0, [33.5, 31.0, 29.0, 27.0, 25.0, 23.0]), (70.0, [30.5, 28.5, 26.5, 24.5]),
    (71.0, [27.5, 25.5, 24.0]),
    (88.8, [30.8, 28.0, 25.1]), (94.0, [26.8]), (99.6, [25.9]),
    (104.4, [51.9, 39.8, 34.3, 32.2, 30.3, 28.0, 26.5, 25.5]), (105.8, [28.0, 26.5, 24.5]),
    (108.0, [30.3, 29.0]), (110.0, [28.3, 27.0, 25.5]), (113.7, [32.4, 29.8]),
    (116.6, [35.6, 26.5]), (119.2, [49.3, 36.5, 29.0, 28.0, 26.0, 25.3]),
    (120.5, [31.0, 27.5, 25.0]), (121.5, [29.0, 27.0, 24.0]), (122.4, [78.2, 42.3, 32.8, 30.5]),
    (123.5, [30.0, 27.8, 25.5]), (126.2, [25.9, 24.5]),
    (129.8, [26.5, 25.5, 24.5, 23.5, 22.5, 21.8]), (130.6, [26.0, 24.0, 22.5]), (132.3, [29.0]),
    (144.5, [65.8, 53.7, 46.0, 45.5, 37.9, 33.0, 32.0, 30.8, 29.3, 28.5, 26.5, 25.5, 24.8,
             23.3]),
    (146.0, [32.0, 28.5, 26.5]), (148.0, [27.5, 25.5]), (150.0, [26.5, 25.0]),
    (153.2, [43.3, 38.9, 32.4, 30.4, 27.5, 26.5, 26.0]), (155.5, [27.0, 26.0, 25.0]),
    (156.5, [28.3, 26.5]), (157.7, [27.5, 26.0]), (159.4, [38.4, 33.0, 32.8, 28.5]),
    (168.0, [34.3, 31.1, 30.5, 26.5, 26.0, 25.5]),
    (194.0, [50.8, 44.9, 32.5, 32.0, 30.5, 28.8, 22.5]), (200.0, [37.0]),
    (202.3, [30.1, 29.0, 27.0, 25.0, 24.0]),
    (233.0, [32.4, 27.6, 26.3]), (240.0, [29.5]), (244.5, [39.3, 29.3, 26.6, 22.4]),
    (263.6, [58.9, 53.2, 48.8, 48.3, 47.5, 46.5, 45.0, 44.5, 40.4, 37.9, 35.4, 33.8, 33.3,
             32.3, 30.3, 29.0, 28.5, 28.0, 27.3, 26.5]),
    (267.0, [43.5, 40.4]), (276.0, [27.8]),
    (288.0, [32.5, 31.3, 30.3, 29.3]), (289.5, [31.8, 30.8, 29.0]),
    (291.3, [34.3, 33.0, 31.8, 30.5, 29.3, 28.3, 27.3, 26.8]),
    (375.0, [26.3, 25.8]), (380.9, [31.8, 30.8, 28.3, 27.5, 26.5, 26.0]),
    (399.5, [24.5, 23.5, 22.8, 22.2]), (400.8, [27.3, 27.0, 24.0, 23.0, 22.3]),
    (402.5, [25.5, 23.8, 22.5]), (404.0, [24.8, 23.2]), (405.0, [43.0, 31.3]),
    (409.0, [31.0, 27.5, 26.5, 25.5, 24.5, 23.5]), (410.5, [28.5, 26.0, 24.0]),
    (411.5, [33.0, 29.5]), (413.0, [27.0, 25.0, 23.0]), (414.0, [26.3, 22.5]),
    (416.5, [25.5, 23.5, 22.8]), (419.0, [41.3, 26.5, 24.0]), (421.0, [25.0, 23.0]),
    (423.0, [24.8, 23.5, 22.5]), (425.0, [24.3, 23.0, 22.5]),
]

macehead_hfc23 = [
    (0, [21.7, 21.8, 21.6, 21.7, 21.8, 21.7, 21.6, 21.8, 21.7, 21.8,
         21.8, 21.7, 21.9, 21.8, 21.7, 21.9, 21.8, 21.9, 21.8, 21.7,
         21.9, 21.8, 22.0, 21.9, 21.8, 22.0, 21.9, 21.8, 22.0, 21.9,
         22.0, 21.9, 22.1, 22.0, 23.4, 22.0, 22.1, 21.9, 22.1, 22.0,
         22.1, 22.0, 22.2, 22.1, 22.3, 22.1, 22.2, 22.0, 22.2, 22.1,
         22.2, 22.1, 22.3, 22.2, 22.1, 22.3, 22.2, 22.3, 22.1, 22.2,
         22.3, 22.2, 22.4, 22.3, 22.2, 22.4, 22.3, 22.2, 22.4, 22.3,
         22.3, 22.4, 22.2, 22.4, 22.3, 22.5, 22.3, 22.4, 22.2, 22.4,
         22.4, 22.3, 22.5, 22.4, 22.3, 22.5, 22.4, 22.5, 22.3, 22.4,
         22.5, 22.4, 22.5, 22.3, 22.5, 22.4, 22.6, 22.4, 22.5, 22.6,
         22.5, 22.6, 22.4, 22.6, 22.5, 22.6, 22.5, 22.4, 22.6, 22.5,
         22.6, 22.5, 22.7, 22.6, 22.5, 22.7, 22.6, 22.5, 22.7, 22.6,
         22.7, 22.6, 22.8, 22.7, 22.6, 22.8, 22.7, 22.6, 22.8, 22.7,
         22.8, 22.7, 22.9, 22.8, 22.7, 22.9, 22.8, 22.7, 22.9, 22.8,
         22.9, 22.8, 22.9]),
]

capegrim_hfc23 = [
    (10, [20.6, 20.7, 20.6, 20.5, 20.6, 20.7, 20.6, 20.6, 20.7, 20.5, 20.6, 20.7, 20.6,
          20.6, 20.7, 20.6, 20.5, 20.7, 20.6, 20.7, 20.6, 20.6, 20.7, 20.6, 20.7, 20.6]),
    (118, [20.8, 20.9, 20.8, 20.9, 21.0, 20.9, 20.8, 21.0, 20.9, 21.0, 20.9, 21.0, 21.1,
           20.9, 21.0, 21.1, 21.0, 20.9, 21.1, 21.0]),
    (181, [21.0, 21.1, 21.0, 21.1, 21.2, 21.0, 21.1, 21.2, 21.1, 21.0, 21.2, 21.1, 21.2]),
    (221, [21.1, 21.2, 21.1]),
    (279, [21.3, 21.4, 21.3, 21.4, 21.3, 21.4, 21.5, 21.3, 21.4, 21.3, 21.4, 21.5, 21.4,
           21.3, 21.4, 21.5, 21.4, 21.3, 21.5, 21.4, 21.5, 21.4, 21.3, 21.5, 21.4, 21.5,
           21.4, 21.5, 21.4, 21.5, 21.6, 21.4, 21.5, 21.4, 21.5, 21.6, 21.5]),
    (392, [21.5, 21.6, 21.5, 21.4, 21.5, 21.6, 21.5, 21.6, 21.5, 21.5, 21.6, 21.5]),
]

SERIES_LABELS = ["Gosan", "Gosan, Chinese origin", "Mace Head (NH)", "Cape Grim (SH)"]
SERIES_COLORS = ["#a8a8a8", "#ee1d23", "#4caf50", "#1ee6ee"]


def columns_frame(cols):
    """Flatten (day, [values]) columns into a date/value frame."""
    days, vals = [], []
    for day, values in cols:
        days.extend([day] * len(values))
        vals.extend(values)
    return pd.DataFrame({"date": START + pd.to_timedelta(days, unit="D"), "ppt": vals})


def baseline_frame(segments):
    """Expand regularly sampled background-station segments."""
    days, vals = [], []
    for first, values in segments:
        days.extend(first + BASE_STEP * np.arange(len(values)))
        vals.extend(values)
    return pd.DataFrame({"date": START + pd.to_timedelta(days, unit="D"), "ppt": vals})


# ---------------------------------------------------------------------------
# Figure
# ---------------------------------------------------------------------------
sns.set_theme(style="white")
plt.rcParams["font.family"] = ["Liberation Sans", "DejaVu Sans"]

W, H = 995, 1245
fig = plt.figure(figsize=(W / 100, H / 100), dpi=100)
left, right = 140.7, 957.0
top1, bot1 = 22.7, 592.7
top2, bot2 = 636.0, 1203.7
ax1 = fig.add_axes([left / W, 1 - bot1 / H, (right - left) / W, (bot1 - top1) / H])
ax2 = fig.add_axes([left / W, 1 - bot2 / H, (right - left) / W, (bot2 - top2) / H], sharex=ax1)

panels = [
    (ax1, gosan_hcfc22, china_hcfc22, macehead_hcfc22, capegrim_hcfc22, 44, 26),
    (ax2, gosan_hfc23, china_hfc23, macehead_hfc23, capegrim_hfc23, 40, 28),
]
for ax, gos, chn, mhd, cgo, s_grey, s_red in panels:
    sns.scatterplot(data=baseline_frame(cgo), x="date", y="ppt", ax=ax, color=SERIES_COLORS[3],
                    s=36, linewidth=0, legend=False, zorder=2)
    sns.scatterplot(data=baseline_frame(mhd), x="date", y="ppt", ax=ax, color=SERIES_COLORS[2],
                    s=36, linewidth=0, legend=False, zorder=3)
    sns.scatterplot(data=columns_frame(gos), x="date", y="ppt", ax=ax, color=SERIES_COLORS[0],
                    s=s_grey, linewidth=0, legend=False, zorder=4)
    sns.scatterplot(data=columns_frame(chn), x="date", y="ppt", ax=ax, color=SERIES_COLORS[1],
                    s=s_red, linewidth=0, legend=False, zorder=5)

# Axis ranges and ticks
ax1.set_ylim(0, 600)
ax1.yaxis.set_major_locator(MultipleLocator(100))
ax1.yaxis.set_minor_locator(MultipleLocator(50))
ax2.set_ylim(0, 85)
ax2.yaxis.set_major_locator(MultipleLocator(10))
ax2.yaxis.set_minor_locator(MultipleLocator(5))

ax2.set_xlim(START, END)
major_dates = pd.date_range("2008-01-01", "2009-01-01", freq="2MS")
minor_dates = pd.date_range("2007-12-01", "2008-12-01", freq="2MS")
ax2.xaxis.set_major_locator(FixedLocator(mdates.date2num(major_dates)))
ax2.xaxis.set_minor_locator(FixedLocator(mdates.date2num(minor_dates)))
ax2.xaxis.set_major_formatter(
    FuncFormatter(lambda v, pos: "{}/{}".format(mdates.num2date(v).month,
                                                mdates.num2date(v).strftime("%y"))))

TICK_FS = 25
for ax in (ax1, ax2):
    ax.set_xlabel("")
    ax.set_ylabel("")
    ax.set_axisbelow(True)
    ax.grid(which="major", color="black", linestyle=(0, (1, 5)), linewidth=1.5)
    ax.tick_params(axis="y", which="major", direction="in", length=22, width=1.6,
                   labelsize=TICK_FS, pad=9, colors="black")
    ax.tick_params(axis="y", which="minor", direction="in", length=11.5, width=1.6,
                   left=True)
    for sp in ax.spines.values():
        sp.set_color("black")
        sp.set_linewidth(1.5)

ax1.tick_params(axis="x", which="both", length=0, labelbottom=False)
ax2.tick_params(axis="x", which="major", direction="in", length=22, width=1.6,
                labelsize=TICK_FS, pad=5, colors="black")
ax2.tick_params(axis="x", which="minor", direction="in", length=10, width=1.6, bottom=True)

# Lower panel: open top, right frame line joins the upper panel
ax2.spines["top"].set_visible(False)
ax2.spines["right"].set_bounds(0, 85 * (bot2 - bot1) / (bot2 - top2))

ax1.set_ylabel("HCFC-22 [ppt]", fontsize=24.5, fontweight="bold")
ax2.set_ylabel("HFC-23 [ppt]", fontsize=24.5, fontweight="bold")
for ax in (ax1, ax2):
    ax.yaxis.set_label_coords((47 - left) / (right - left), 0.5)

# Shared legend straddling both panels
LEG_FS = 25.3
handles = [Line2D([], [], marker="o", linestyle="", markersize=12.5, markeredgewidth=0,
                  color=c) for c in SERIES_COLORS]
leg = fig.legend(handles, SERIES_LABELS, loc="upper left",
                 bbox_to_anchor=(458 / W, 1 - 713 / H, 474 / W, 221 / H), mode="expand",
                 borderaxespad=0, fontsize=LEG_FS, frameon=True, fancybox=False,
                 framealpha=1, edgecolor="black", borderpad=0.55, labelspacing=0.5,
                 handlelength=1.46, handletextpad=0.41, numpoints=1)
leg.get_frame().set_linewidth(1.5)
leg.set_zorder(10)

fig.savefig("out.png", dpi=100)
